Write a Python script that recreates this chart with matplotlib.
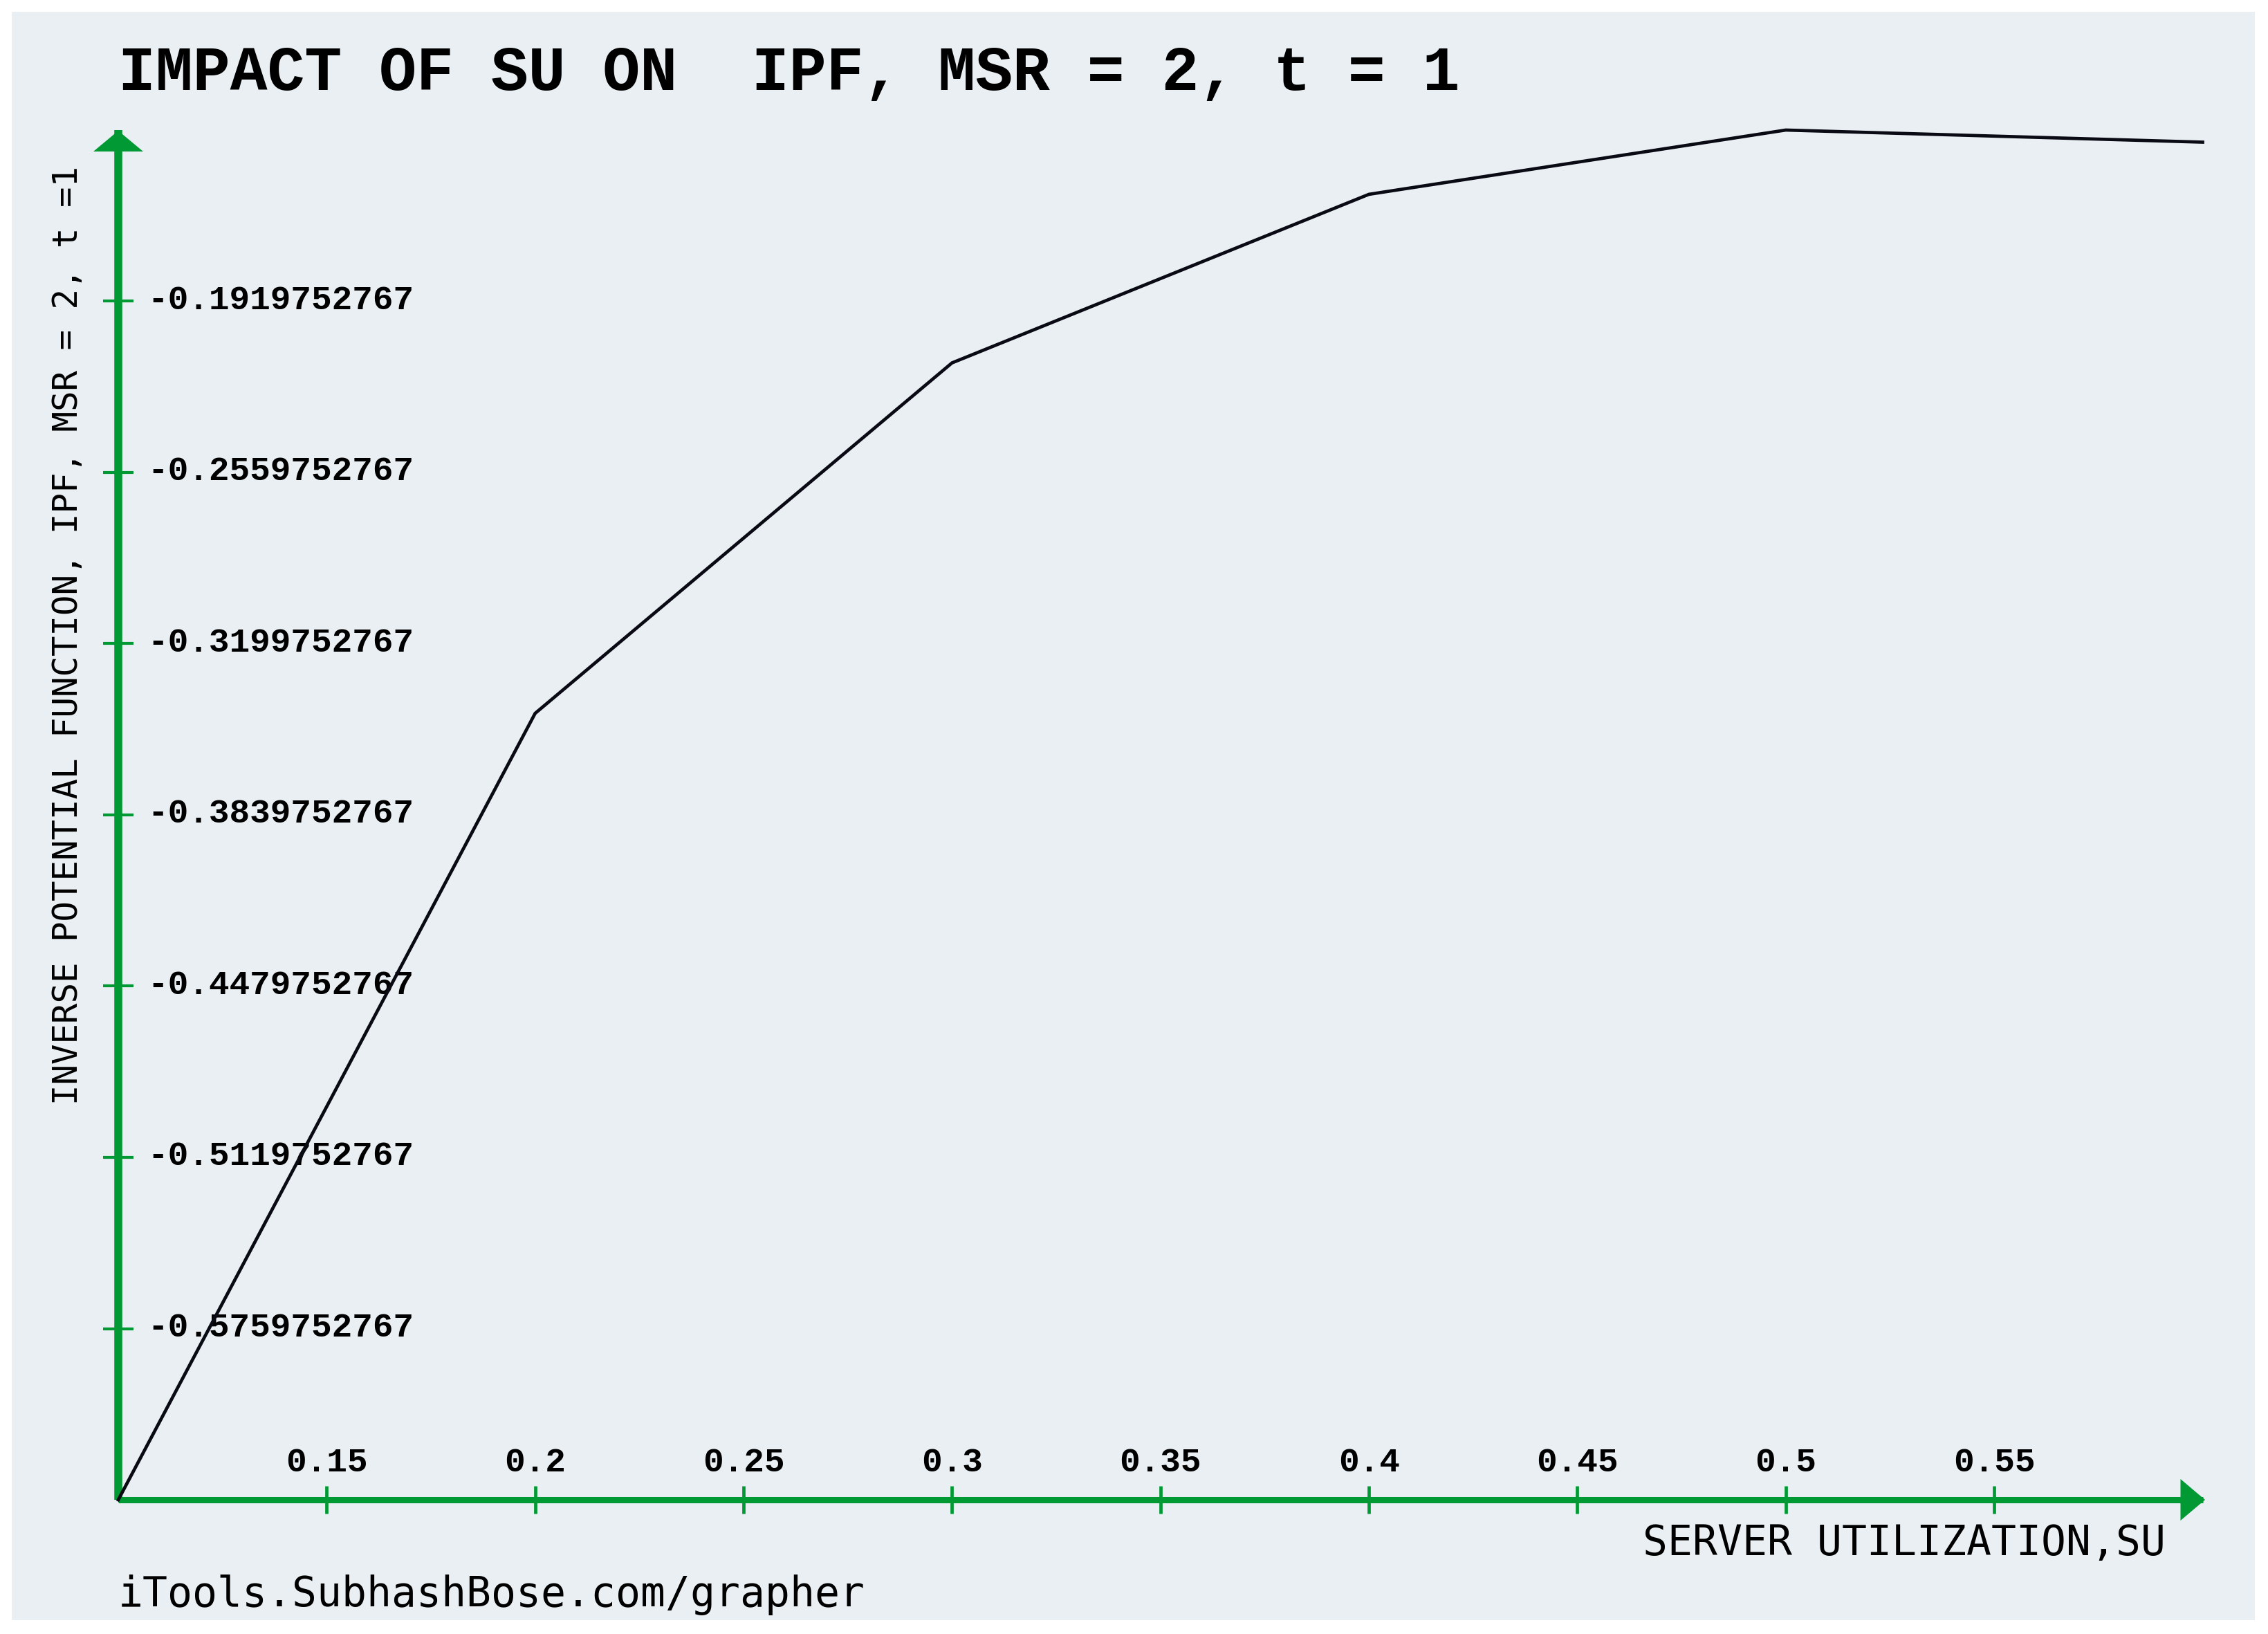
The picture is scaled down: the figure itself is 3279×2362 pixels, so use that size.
import matplotlib
matplotlib.use('Agg')
import matplotlib.pyplot as plt
import matplotlib.transforms as mtransforms
from matplotlib.patches import Rectangle, Polygon

# Data
su = [0.1, 0.2, 0.3, 0.4, 0.5, 0.6]
ipf = [-0.6399752767, -0.346, -0.215, -0.152, -0.1279752767, -0.1325]

x_ticks = [0.15, 0.2, 0.25, 0.3, 0.35, 0.4, 0.45, 0.5, 0.55]
x_tick_labels = ['0.15', '0.2', '0.25', '0.3', '0.35', '0.4', '0.45', '0.5', '0.55']
y_ticks = [-0.5759752767, -0.5119752767, -0.4479752767, -0.3839752767,
           -0.3199752767, -0.2559752767, -0.1919752767]
y_tick_labels = ['-0.5759752767', '-0.5119752767', '-0.4479752767', '-0.3839752767',
                 '-0.3199752767', '-0.2559752767', '-0.1919752767']
x_range = (0.1, 0.6)
y_range = (-0.6399752767, -0.1279752767)

title = 'IMPACT OF SU ON  IPF, MSR = 2, t = 1'
x_label = 'SERVER UTILIZATION,SU'
y_label = 'INVERSE POTENTIAL FUNCTION, IPF, MSR = 2, t =1'
footer = 'iTools.SubhashBose.com/grapher'

W, H = 3279, 2362
green = '#009933'
bg = '#e9eff2'

fig = plt.figure(figsize=(W / 100, H / 100), dpi=100, facecolor='white')
fig.add_artist(Rectangle((17 / W, 1 - 2342 / H), (3260 - 17) / W, (2342 - 17) / H,
                         transform=fig.transFigure, facecolor=bg, edgecolor='none', zorder=0))

ax = fig.add_axes([171 / W, 1 - 2168 / H, (3184.5 - 171) / W, (2168 - 188) / H])
ax.patch.set_visible(False)
ax.set_xlim(*x_range)
ax.set_ylim(*y_range)

# axes drawn as green lines with ticks crossing them, labels inside the plot
ax.spines['left'].set_visible(False)
ax.spines['bottom'].set_visible(False)
ax.spines['right'].set_position(('axes', 0))
ax.spines['top'].set_position(('axes', 0))
ax.spines['right'].set_linewidth(8.3)
ax.spines['top'].set_linewidth(6.5)
for s in ['right', 'top']:
    ax.spines[s].set_color(green)
    ax.spines[s].set_capstyle('butt')
    ax.spines[s].set_zorder(2)
ax.yaxis.tick_right()
ax.xaxis.tick_top()
ax.set_xticks(x_ticks, x_tick_labels)
ax.set_yticks(y_ticks, y_tick_labels)
ax.tick_params(axis='y', direction='inout', length=31.7, width=3, color=green, pad=14.4,
               labelsize=35.6, labelfontfamily='Liberation Mono')
ax.tick_params(axis='x', direction='inout', length=28.8, width=3.4, color=green, pad=8,
               labelsize=35.6, labelfontfamily='Liberation Mono')
for lab in ax.get_yticklabels():
    lab.set_fontweight('bold')
    lab.set_transform(lab.get_transform() + mtransforms.ScaledTranslation(0, 0.06, fig.dpi_scale_trans))
for lab in ax.get_xticklabels():
    lab.set_fontweight('bold')

# arrow heads
trans_y = fig.dpi_scale_trans + mtransforms.ScaledTranslation(x_range[0], y_range[1], ax.transData)
ax.add_artist(Polygon([(-0.36, -0.31), (0.36, -0.31), (0, -0.01)], closed=True,
                      transform=trans_y, facecolor=green, edgecolor='none', clip_on=False, zorder=3))
trans_x = fig.dpi_scale_trans + mtransforms.ScaledTranslation(x_range[1], y_range[0], ax.transData)
ax.add_artist(Polygon([(-0.32, 0.30), (-0.32, -0.30), (0.035, 0)], closed=True,
                      transform=trans_x, facecolor=green, edgecolor='none', clip_on=False, zorder=3))

ax.plot(su, ipf, color='#0a0a14', linewidth=3.4, clip_on=False, zorder=5,
        solid_joinstyle='miter')

fig.text(171 / W, 1 - 130 / H, title, fontsize=64.7, fontfamily='Liberation Mono',
         fontweight='bold', ha='left', va='baseline')
fig.text(98 / W, 1 - 240 / H, y_label, fontsize=35.3, fontfamily='DejaVu Sans Mono',
         rotation=90, ha='center', va='top')
fig.text(3131 / W, 1 - 2248 / H, x_label, fontsize=43, fontfamily='DejaVu Sans Mono',
         ha='right', va='baseline')
fig.text(171 / W, 1 - 2322 / H, footer, fontsize=43, fontfamily='DejaVu Sans Mono',
         ha='left', va='baseline')

fig.savefig('out.png', dpi=100)
